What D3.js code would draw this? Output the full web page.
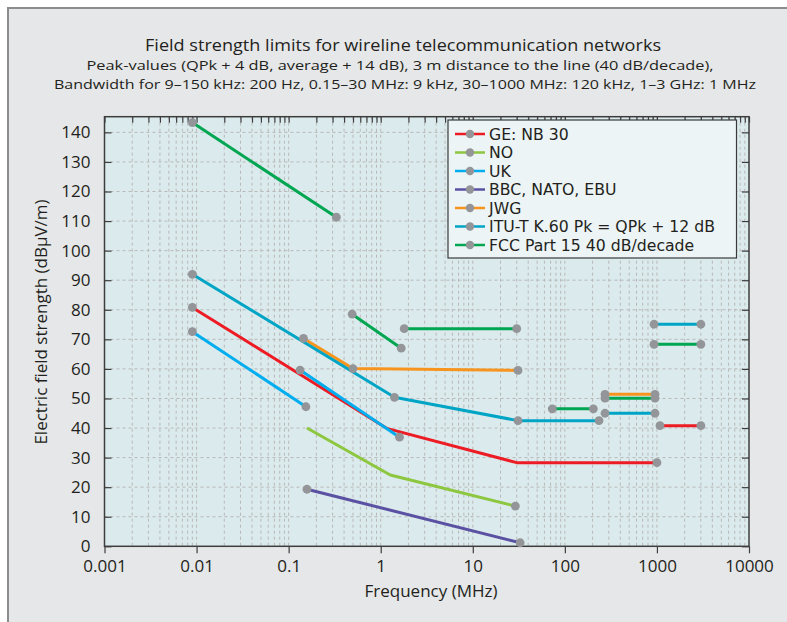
<!DOCTYPE html>
<html>
<head>
<meta charset="utf-8">
<title>Field strength limits</title>
<script src="https://cdn.jsdelivr.net/npm/d3@7"></script>
<style>
  body { margin: 0; background: #fff; }
  svg { display: block; font-family: "Open Sans", "Noto Sans", sans-serif; }
</style>
</head>
<body>
<div id="chart"></div>
<script>
// legend entries and line colours
var seriesNames = ["GE: NB 30", "NO", "UK", "BBC, NATO, EBU", "JWG",
                   "ITU-T K.60 Pk = QPk + 12 dB", "FCC Part 15 40 dB/decade"];
var seriesColors = ["#ed1c24", "#8dc63f", "#00aeef", "#5b51a3", "#f7941d", "#00a5c6", "#00a651"];

// each series is a list of segments, points are [MHz, dBuV/m, marker]
var geNb30 = [
  [[0.009, 80.8, 1], [1.16, 39.9, 0], [30, 28.3, 0], [1000, 28.3, 1]],
  [[1080, 40.8, 1], [3000, 40.8, 1]]
];
var norway = [
  [[0.158, 40, 0], [1.27, 24.1, 0], [29, 13.6, 1]]
];
var uk = [
  [[0.009, 72.6, 1], [0.154, 47.2, 1]],
  [[0.133, 59.6, 1], [1.6, 36.9, 1]]
];
var bbcNatoEbu = [
  [[0.158, 19.3, 1], [32.7, 1.2, 1]]
];
var jwg = [
  [[0.145, 70.3, 1], [0.5, 60.1, 1], [31, 59.5, 1]],
  [[273, 51.4, 1], [953, 51.4, 1]]
];
var ituK60 = [
  [[0.009, 92, 1], [1.41, 50.4, 1], [31, 42.5, 1], [235, 42.5, 1]],
  [[273, 45, 1], [953, 45, 1]],
  [[930, 75.1, 1], [3000, 75.1, 1]]
];
var fcc15 = [
  [[0.009, 143.3, 1], [0.33, 111.3, 1]],
  [[0.49, 78.5, 1], [1.67, 67, 1]],
  [[1.8, 73.6, 1], [30, 73.6, 1]],
  [[73, 46.5, 1], [204, 46.5, 1]],
  [[273, 50.1, 1], [953, 50.1, 1]],
  [[930, 68.3, 1], [3000, 68.3, 1]]
];
var allSeries = [geNb30, norway, uk, bbcNatoEbu, jwg, ituK60, fcc15];

var xTicks = [0.001, 0.01, 0.1, 1, 10, 100, 1000, 10000];
var xTickLabels = ["0.001", "0.01", "0.1", "1", "10", "100", "1000", "10000"];
var yTicks = [0, 10, 20, 30, 40, 50, 60, 70, 80, 90, 100, 110, 120, 130, 140];

var titleLines = [
  "Field strength limits for wireline telecommunication networks",
  "Peak-values (QPk + 4 dB, average + 14 dB), 3 m distance to the line (40 dB/decade),",
  "Bandwidth for 9\u2013150 kHz: 200 Hz, 0.15\u201330 MHz: 9 kHz, 30\u20131000 MHz: 120 kHz, 1\u20133 GHz: 1 MHz"
];

var w = 787, h = 622,
    pLeft = 104.5, pRight = 749, pTop = 116.7, pBottom = 546.3;

var svg = d3.select("#chart").append("svg").attr("width", w).attr("height", h);

// grey panel
svg.append("rect").attr("x", 8).attr("y", 8).attr("width", 800).attr("height", 700)
   .attr("fill", "#e6e7e8").attr("stroke", "#8c8c8c").attr("stroke-width", 2);

// titles
var titleY = [51, 70, 88.5], titleW = [516, 627, 702], titleSize = [15.5, 13.5, 13.5];
svg.selectAll("text.title").data(titleLines).enter().append("text")
   .attr("class", "title")
   .attr("x", function(d, i) { return i == 0 ? 403 : (i == 1 ? 400 : 405); })
   .attr("y", function(d, i) { return titleY[i]; })
   .attr("text-anchor", "middle")
   .attr("font-size", function(d, i) { return titleSize[i] + "px"; })
   .attr("textLength", function(d, i) { return titleW[i]; })
   .attr("lengthAdjust", "spacingAndGlyphs")
   .attr("fill", "#231f20")
   .text(function(d) { return d; });

var x = d3.scaleLog().domain([0.001, 10000]).range([pLeft, pRight]);
var y = d3.scaleLinear().domain([0, 145.3]).range([pBottom, pTop]);

svg.append("rect").attr("x", pLeft).attr("y", pTop)
   .attr("width", pRight - pLeft).attr("height", pBottom - pTop)
   .attr("fill", "#dbeaec");

// minor log positions
var minor = [];
for (var e = -3; e < 4; e++) {
  for (var k = 1; k < 10; k++) minor.push(k * Math.pow(10, e));
}
minor.push(10000);

var grid = svg.append("g").attr("stroke", "#b8b8b8").attr("stroke-width", 1)
   .attr("stroke-dasharray", "3,3");
grid.selectAll("line.v").data(minor.slice(1, -1)).enter().append("line")
   .attr("class", "v")
   .attr("x1", function(d) { return x(d); }).attr("x2", function(d) { return x(d); })
   .attr("y1", pTop).attr("y2", pBottom);
grid.selectAll("line.h").data(yTicks.slice(1)).enter().append("line")
   .attr("class", "h")
   .attr("x1", pLeft).attr("x2", pRight)
   .attr("y1", function(d) { return y(d); }).attr("y2", function(d) { return y(d); });

// axes
function styleAxis(g) {
  g.select(".domain").remove();
  g.selectAll("line").attr("stroke", "#3d3d3d").attr("stroke-width", 1.2);
  g.selectAll("text").attr("fill", "#231f20").attr("font-size", "17px")
   .attr("font-family", "'Open Sans', sans-serif");
}

svg.append("g").attr("transform", "translate(0," + pBottom + ")")
   .call(d3.axisBottom(x).tickValues(xTicks)
         .tickFormat(function(d, i) { return xTickLabels[i]; })
         .tickSize(7).tickPadding(7))
   .call(styleAxis);

svg.append("g").attr("transform", "translate(0," + pTop + ")")
   .call(d3.axisTop(x).tickValues(minor).tickFormat("").tickSize(-6))
   .call(styleAxis);

svg.append("g").attr("transform", "translate(" + pLeft + ",0)")
   .call(d3.axisLeft(y).tickValues(yTicks).tickSize(-7).tickPadding(14))
   .call(styleAxis);

svg.append("g").attr("transform", "translate(" + pRight + ",0)")
   .call(d3.axisRight(y).tickValues(yTicks).tickFormat("").tickSize(-7))
   .call(styleAxis);

svg.append("rect").attr("x", pLeft).attr("y", pTop)
   .attr("width", pRight - pLeft).attr("height", pBottom - pTop)
   .attr("fill", "none").attr("stroke", "#3d3d3d").attr("stroke-width", 1.5);

// axis titles
svg.append("text").attr("x", 431).attr("y", 597).attr("text-anchor", "middle")
   .attr("font-size", "17px").attr("fill", "#231f20")
   .text("Frequency (MHz)");
svg.append("text").attr("transform", "translate(47,322) rotate(-90)")
   .attr("text-anchor", "middle").attr("font-size", "17px").attr("fill", "#231f20")
   .text("Electric field strength (dB\u00b5V/m)");

// lines
var line = d3.line()
   .x(function(p) { return x(p[0]); })
   .y(function(p) { return y(p[1]); });

var plot = svg.append("g");
allSeries.forEach(function(segs, si) {
  plot.selectAll(null).data(segs).enter().append("path")
     .attr("d", line)
     .attr("fill", "none")
     .attr("stroke", seriesColors[si])
     .attr("stroke-width", 3)
     .attr("stroke-linejoin", "round");
});

// markers
allSeries.forEach(function(segs) {
  var pts = [];
  segs.forEach(function(s) { s.forEach(function(p) { if (p[2]) pts.push(p); }); });
  plot.selectAll(null).data(pts).enter().append("circle")
     .attr("cx", function(p) { return x(p[0]); })
     .attr("cy", function(p) { return y(p[1]); })
     .attr("r", 4.4)
     .attr("fill", "#939598");
});

// legend
var lg = svg.append("g");
lg.append("rect").attr("x", 448).attr("y", 120).attr("width", 288.5).attr("height", 138)
   .attr("fill", "#edf4f5").attr("stroke", "#3a3a3a").attr("stroke-width", 1.2);
var rows = lg.selectAll("g.row").data(seriesNames).enter().append("g")
   .attr("transform", function(d, i) { return "translate(0," + (134 + i * 18.5) + ")"; });
rows.append("line").attr("x1", 455).attr("x2", 485).attr("y1", 0).attr("y2", 0)
   .attr("stroke", function(d, i) { return seriesColors[i]; }).attr("stroke-width", 2.5);
rows.append("circle").attr("cx", 470).attr("cy", 0).attr("r", 4.2).attr("fill", "#939598");
rows.append("text").attr("x", 489).attr("y", 0).attr("dy", "0.36em")
   .attr("font-size", "15.7px").attr("font-family", "'DejaVu Sans', sans-serif")
   .attr("fill", "#231f20")
   .text(function(d) { return d; });
</script>
</body>
</html>
